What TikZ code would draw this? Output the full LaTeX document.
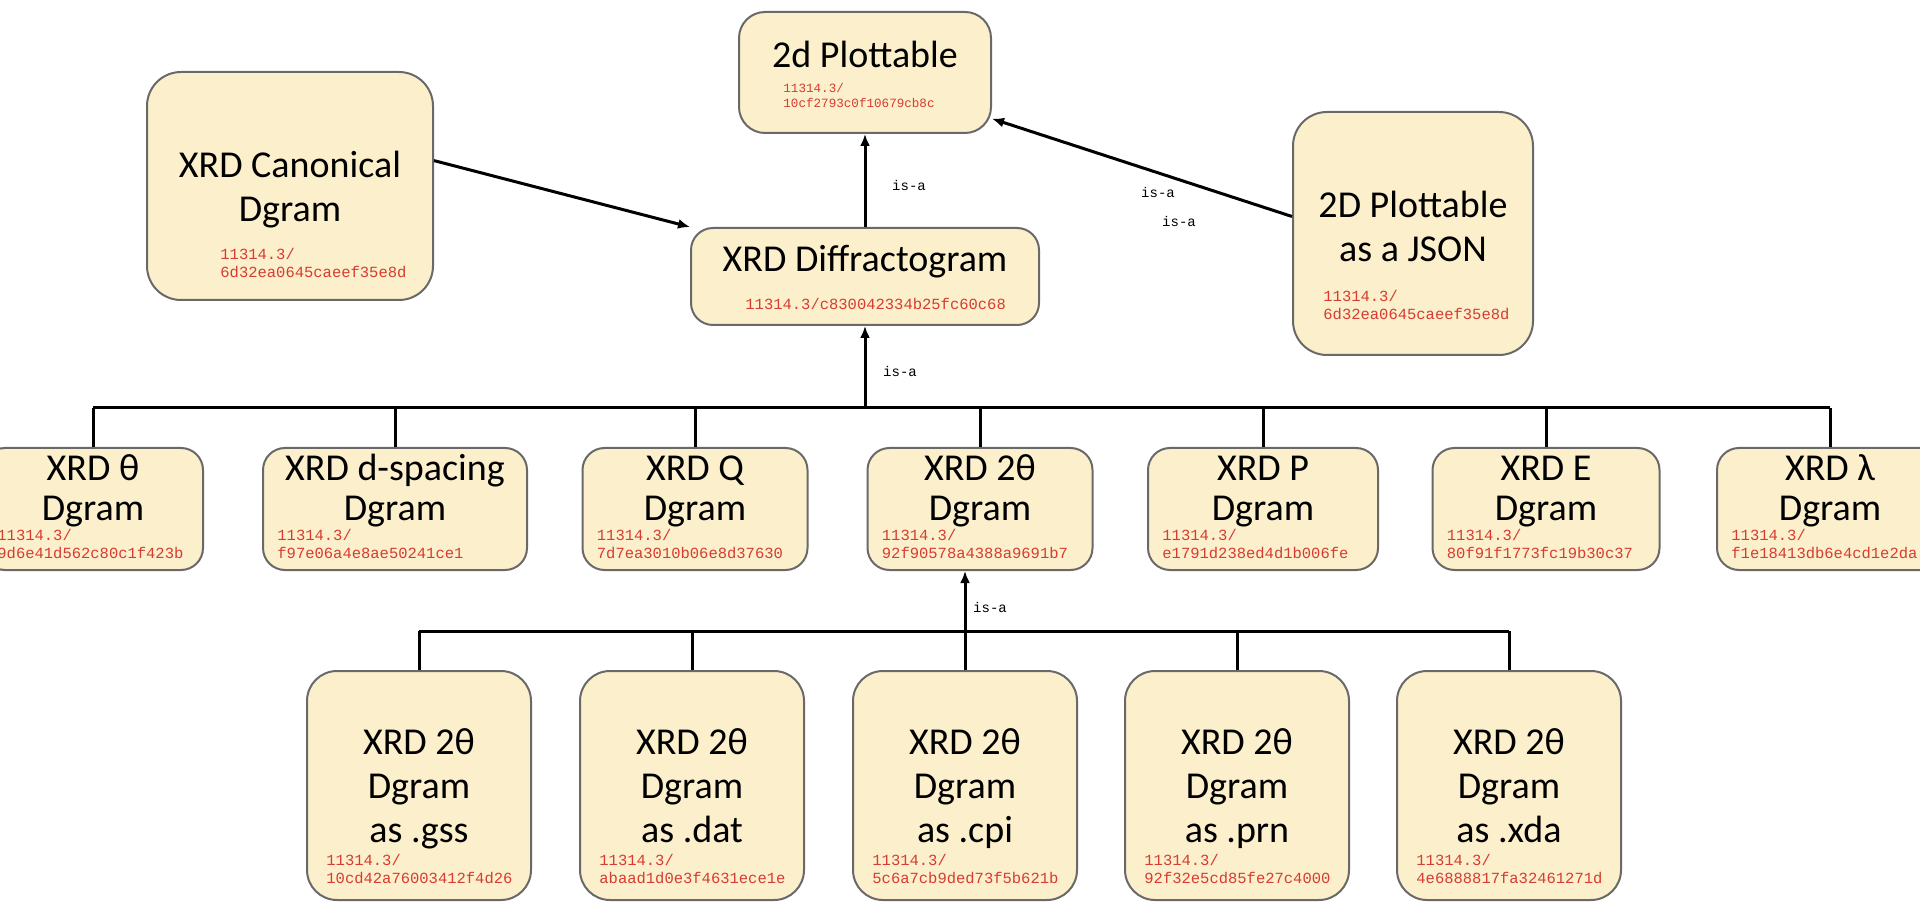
\documentclass[tikz,border=0pt]{standalone}
\usepackage{fontspec}
\setmainfont{Carlito}
\newfontfamily\idfont{Liberation Mono}
\usetikzlibrary{arrows.meta}

\begin{document}
\begin{tikzpicture}[x=0.5pt,y=-0.5pt,
		dgram/.style={draw=boxgray, fill=boxcream, line width=1pt, rounded corners=11pt, inner sep=0pt},
		title/.style={font=\fontsize{19}{22}\selectfont, align=center, anchor=base, inner sep=0pt},
		handle/.style={font=\idfont\fontsize{7.75}{9}\selectfont, text=idred, align=left, anchor=base west, inner sep=0pt},
		isa/.style={font=\idfont\fontsize{7}{8}\selectfont, inner sep=0pt},
		link/.style={line width=1.5pt, -{Latex[length=6pt,width=5pt]}},
		bus/.style={line width=1.5pt}]
	% 颜色
	\definecolor{boxcream}{RGB}{252,239,203}
	\definecolor{boxgray}{RGB}{105,105,105}
	\definecolor{idred}{RGB}{215,60,50}
	\useasboundingbox (0,0) rectangle (1920,908);
	
	% 上层 (base = 最后一行)
	\node[dgram, rounded corners=13pt, minimum width=126pt, minimum height=60.5pt] (plot2d) at (865,72.5) {};
	\node[title] (plot2d-t) at (865,68) {2d Plottable};
	\node[handle, font=\idfont\fontsize{6.3}{7.5}\selectfont] (plot2d-id) at (783,108) {11314.3/\\10cf2793c0f10679cb8c};
	
	\node[dgram, rounded corners=17pt, minimum width=143pt, minimum height=114pt] (canon) at (290,186) {};
	\node[title] (canon-t) at (290,222) {XRD Canonical\\Dgram};
	\node[handle] (canon-id) at (220,278) {11314.3/\\6d32ea0645caeef35e8d};
	
	\node[dgram, minimum width=174pt, minimum height=48.5pt] (diff) at (865,276.5) {};
	\node[title] (diff-t) at (865,272) {XRD Diffractogram};
	\node[handle] (diff-id) at (745,310) {11314.3/c830042334b25fc60c68};
	
	\node[dgram, rounded corners=17pt, minimum width=120pt, minimum height=121.5pt] (json) at (1413,233.5) {};
	\node[title] (json-t) at (1413,262) {2D Plottable\\as a JSON};
	\node[handle] (json-id) at (1323,320) {11314.3/\\6d32ea0645caeef35e8d};
	
	% 中层
	\foreach \i/\x/\w/\t/\id in {1/93/220/XRD θ/9d6e41d562c80c1f423b,
		2/395/264/XRD d-spacing/f97e06a4e8ae50241ce1,
		3/695/225/XRD Q/7d7ea3010b06e8d37630,
		4/980/225/XRD 2θ/92f90578a4388a9691b7,
		5/1263/230/XRD P/e1791d238ed4d1b006fe,
		6/1546/227/XRD E/80f91f1773fc19b30c37,
		7/1830/226/XRD λ/f1e18413db6e4cd1e2da}
	{
		\node[dgram, minimum width=\w*0.5pt, minimum height=61pt] (m\i) at (\x,509) {};
		\node[title, font=\fontsize{19}{20}\selectfont] (m\i-t) at (\x,520) {\t\\Dgram};
		\node[handle] (m\i-id) at (\x-\w/2+14,558) {11314.3/\\\id};
	}
	
	% 下层
	\foreach \i/\x/\ext/\id in {1/419/gss/10cd42a76003412f4d26,
		2/692/dat/abaad1d0e3f4631ece1e,
		3/965/cpi/5c6a7cb9ded73f5b621b,
		4/1237/prn/92f32e5cd85fe27c4000,
		5/1509/xda/4e6888817fa32461271d}
	{
		\node[dgram, rounded corners=15pt, minimum width=112pt, minimum height=114.5pt] (b\i) at (\x,785.5) {};
		\node[title] (b\i-t) at (\x,842) {XRD 2θ\\Dgram\\as .\ext};
		\node[handle] (b\i-id) at (\x-112+19,883) {11314.3/\\\id};
	}
	
	% 上层箭头
	\draw[link] (diff.north) -- (plot2d.south);
	\node[isa] (isa1) at (909,186) {is-a};
	\draw[link] (canon.10) -- (diff.north west);
	\draw[link] (json.172) -- (plot2d.-20);
	\node[isa] (isa2) at (1158,193) {is-a};
	\node[isa] (isa3) at (1179,222) {is-a};
	
	% 中层总线
	\coordinate (upbus) at (0,408);
	\draw[bus] (m1.north |- upbus) -- (m7.north |- upbus);
	\foreach \i in {1,...,7}
	\draw[bus] (m\i.north) -- (m\i.north |- upbus);
	\draw[link] (diff.south |- upbus) -- (diff.south);
	\node[isa] (isa4) at (900,371) {is-a};
	
	% 下层总线
	\coordinate (lowbus) at (0,631);
	\draw[bus] (b1.north |- lowbus) -- (b5.north |- lowbus);
	\foreach \i in {1,...,5}
	\draw[bus] (b\i.north) -- (b\i.north |- lowbus);
	\draw[link] (b3.north |- lowbus) -- (b3.north |- m4.south);
	\node[isa] (isa5) at (990,607) {is-a};
\end{tikzpicture}
\end{document}
